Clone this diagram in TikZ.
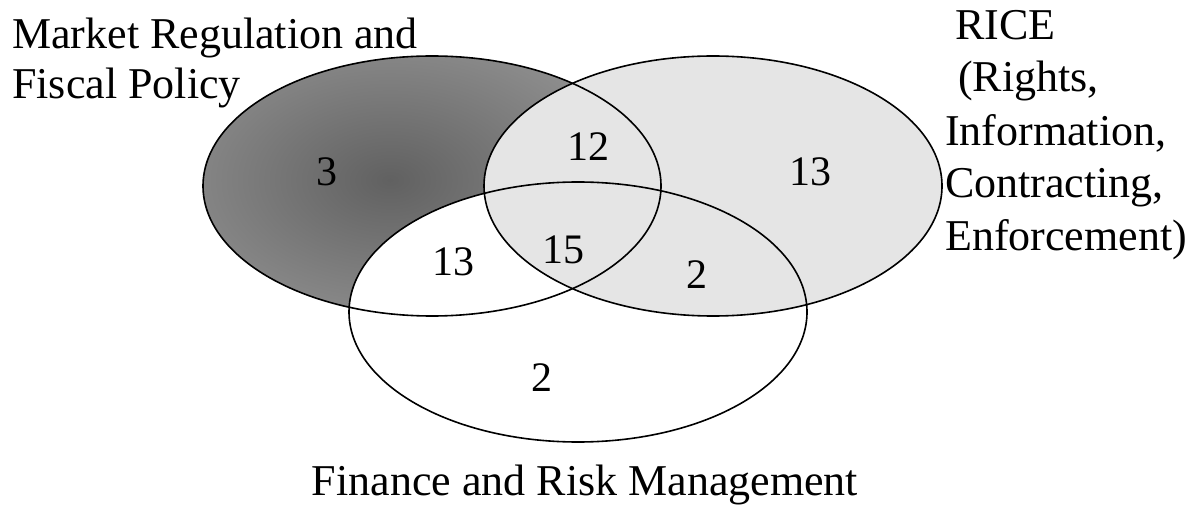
\documentclass[tikz,border=0pt]{standalone}
\usepackage{fontspec}
\setmainfont{Liberation Serif}
\begin{document}
\begin{tikzpicture}[x=1pt,y=-1pt,
  lbl/.style={font=\fontsize{44}{52}\selectfont, inner sep=0pt, anchor=base west},
  num/.style={font=\fontsize{42}{50}\selectfont, inner sep=0pt},
  setline/.style={draw=black, line width=1.6pt}]
\useasboundingbox (0,0) rectangle (1204,510);
% fills: dark set, then white finance set, then light RICE set
\begin{scope}
  \clip (432,186) ellipse [x radius=229, y radius=130];
  \shade[inner color=black!62, outer color=black!40] (390,180) ellipse [x radius=300, y radius=190];
\end{scope}
\fill[white] (578,312) ellipse [x radius=229, y radius=130];
\fill[black!10] (713,186) ellipse [x radius=229, y radius=130];
% outlines
\draw[setline] (432,186) ellipse [x radius=229, y radius=130];
\draw[setline] (713,186) ellipse [x radius=229, y radius=130];
\draw[setline] (578,312) ellipse [x radius=229, y radius=130];
% region counts
\node[num] (n3)  at (327,172) {3};
\node[num] (n12) at (588,147) {12};
\node[num] (n13r) at (810,172) {13};
\node[num] (n13l) at (453,262) {13};
\node[num] (n15) at (563,250) {15};
\node[num] (n2a) at (697,275) {2};
\node[num] (n2b) at (542,378) {2};
% set labels
\node[lbl] (mr1) at (12,49) {Market Regulation and};
\node[lbl] (mr2) at (12,99) {Fiscal Policy};
\node[lbl] (r1) at (955,40) {RICE};
\node[lbl] (r2) at (958,92) {(Rights,};
\node[lbl] (r3) at (945,146) {Information,};
\node[lbl] (r4) at (945,198) {Contracting,};
\node[lbl] (r5) at (945,251) {Enforcement)};
\node[lbl, anchor=base] (frm) at (585,495) {Finance and Risk Management};
\end{tikzpicture}
\end{document}
